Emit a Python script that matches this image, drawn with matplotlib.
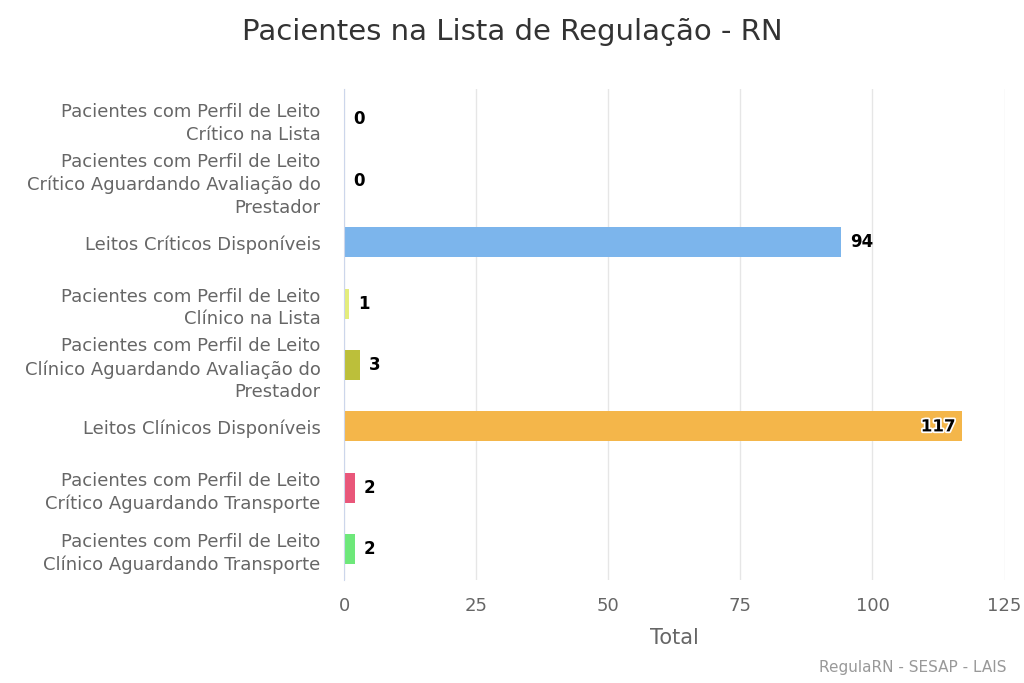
import matplotlib
matplotlib.use("Agg")
import matplotlib.pyplot as plt
import matplotlib.patheffects as pe

## Data

categorias = [
    "Pacientes com Perfil de Leito\nCrítico na Lista",
    "Pacientes com Perfil de Leito\nCrítico Aguardando Avaliação do\nPrestador",
    "Leitos Críticos Disponíveis",
    "Pacientes com Perfil de Leito\nClínico na Lista",
    "Pacientes com Perfil de Leito\nClínico Aguardando Avaliação do\nPrestador",
    "Leitos Clínicos Disponíveis",
    "Pacientes com Perfil de Leito\nCrítico Aguardando Transporte",
    "Pacientes com Perfil de Leito\nClínico Aguardando Transporte",
]
valores = [0, 0, 94, 1, 3, 117, 2, 2]
cores = ["#7cb5ec", "#7cb5ec", "#7cb5ec", "#e4ed7c", "#bcbf3a", "#f4b64a", "#e9577a", "#6ee87a"]
ticks_x = [0, 25, 50, 75, 100, 125]

## Figure

fig = plt.figure(figsize=(10.24, 6.83), dpi=100)
ax = fig.add_axes([0.336, 0.151, 0.645, 0.719])

pos = list(range(len(categorias)))
ax.barh(pos, valores, height=0.49, color=cores, zorder=3)

ax.set_ylim(len(categorias) - 0.5, -0.5)
ax.set_xlim(0, 125)
ax.set_xticks(ticks_x)
ax.set_yticks(pos)
ax.set_yticklabels(categorias, fontsize=13, color="#666666", linespacing=1.32)

ax.tick_params(axis="y", length=0, pad=17)
ax.tick_params(axis="x", length=0, pad=12, labelsize=13, labelcolor="#666666")

ax.grid(axis="x", color="#e6e6e6", linewidth=1, zorder=0)
for s in ["top", "right", "bottom"]:
    ax.spines[s].set_visible(False)
ax.spines["left"].set_color("#ccd6eb")
ax.spines["left"].set_zorder(4)

# data labels
for i, v in enumerate(valores):
    if v > 110:
        ax.text(v - 1.3, i, str(v), ha="right", va="center", fontsize=12,
                fontweight="bold", color="black", zorder=5,
                path_effects=[pe.withStroke(linewidth=2.5, foreground="white")])
    else:
        ax.text(v + 1.7, i, str(v), ha="left", va="center", fontsize=12,
                fontweight="bold", color="black", zorder=5)

ax.set_xlabel("Total", fontsize=15, color="#666666", labelpad=10)

fig.text(0.5, 0.953, "Pacientes na Lista de Regulação - RN", ha="center", va="center",
         fontsize=21, color="#333333")
fig.text(0.983, 0.022, "RegulaRN - SESAP - LAIS", ha="right", va="center",
         fontsize=11, color="#999999")

fig.savefig("out.png", dpi=100)
